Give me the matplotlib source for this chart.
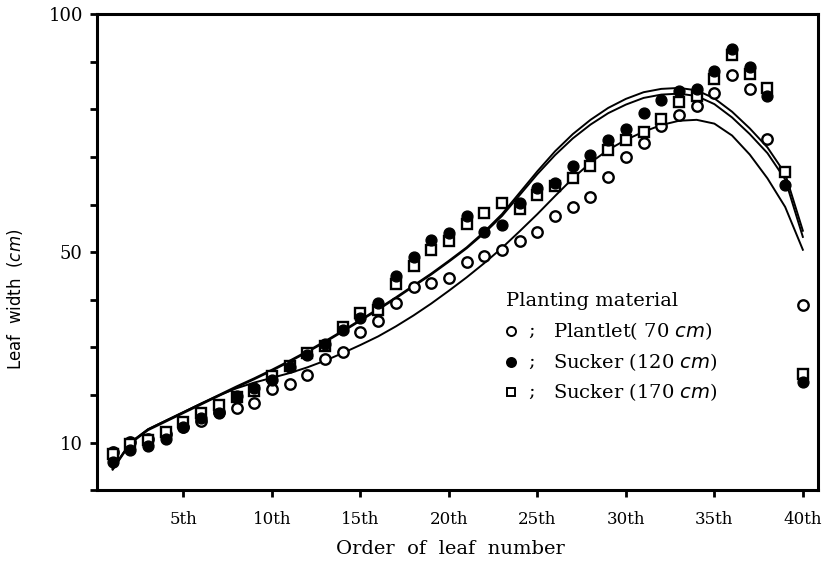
import numpy as np
import matplotlib.pyplot as plt

# leaf order (1st .. 40th)
leaf = np.arange(1, 41)

# leaf width (cm) per planting material
plantlet = [8.0, 10.2, 10.8, 11.8, 13.2, 14.5, 16.5, 17.2, 18.3, 21.2,
            22.4, 24.1, 27.5, 29.0, 33.2, 35.5, 39.4, 42.7, 43.5, 44.5,
            48.0, 49.2, 50.4, 52.4, 54.2, 57.5, 59.5, 61.6, 65.8, 70.0,
            72.9, 76.5, 78.9, 80.8, 83.4, 87.2, 84.2, 73.8, np.nan, 38.8]
sucker120 = [6.0, 8.5, 9.2, 10.8, 13.2, 15.2, 16.2, 19.8, 21.5, 23.2,
             25.8, 28.3, 30.8, 33.6, 36.2, 39.4, 45.0, 49.0, 52.6, 54.0,
             57.5, 54.2, 55.8, 60.3, 63.4, 64.5, 68.0, 70.5, 73.6, 75.8,
             79.2, 82.0, 83.8, 84.2, 88.0, 92.6, 88.8, 82.7, 64.1, 22.7]
sucker170 = [7.5, 9.6, 10.5, 12.3, 14.3, 16.2, 17.8, 19.6, 20.8, 24.0,
             26.0, 28.8, 30.3, 34.3, 37.3, 37.8, 43.4, 47.0, 50.4, 52.3,
             56.0, 58.2, 60.3, 59.0, 62.0, 63.8, 65.6, 68.0, 71.5, 73.6,
             75.3, 77.9, 81.5, 82.7, 86.3, 91.5, 87.5, 84.4, 66.9, 24.4]

# fitted curves
fit_plantlet = [4.5, 10.0, 12.8, 14.6, 16.4, 18.2, 19.9, 21.4, 22.6, 23.6,
                24.6, 25.8, 27.2, 28.8, 30.5, 32.3, 34.4, 36.7, 39.2, 41.9,
                44.7, 47.7, 50.9, 54.4, 58.0, 61.8, 65.5, 68.8, 71.5, 73.6,
                75.3, 76.7, 77.6, 77.8, 77.0, 74.5, 70.5, 65.5, 59.5, 50.5]
fit_sucker120 = [4.5, 10.0, 12.8, 14.6, 16.4, 18.2, 20.0, 21.8, 23.5, 25.3,
                 27.2, 29.2, 31.3, 33.5, 35.8, 38.1, 40.5, 43.0, 45.5, 48.2,
                 51.0, 54.3, 58.0, 62.5, 67.0, 71.2, 74.8, 77.8, 80.3, 82.2,
                 83.6, 84.3, 84.5, 84.0, 82.3, 79.5, 76.0, 72.0, 66.5, 54.5]
fit_sucker170 = [4.3, 9.8, 12.6, 14.4, 16.2, 18.0, 19.8, 21.6, 23.3, 25.1,
                 27.0, 29.0, 31.1, 33.3, 35.6, 37.9, 40.3, 42.8, 45.3, 48.0,
                 50.8, 54.0, 57.6, 62.0, 66.4, 70.4, 73.9, 76.8, 79.2, 81.0,
                 82.4, 83.1, 83.3, 82.8, 81.1, 78.3, 74.8, 70.8, 65.3, 53.2]

xtick_pos = [5, 10, 15, 20, 25, 30, 35, 40]
xtick_lab = ["5th", "10th", "15th", "20th", "25th", "30th", "35th", "40th"]

plt.rcParams['font.family'] = ['DejaVu Serif']

fig = plt.figure(figsize=(8.27, 5.66), dpi=100)
ax = fig.add_axes([0.117, 0.134, 0.872, 0.841])

for f in (fit_plantlet, fit_sucker120, fit_sucker170):
    ax.plot(leaf, f, color="black", lw=1.4, zorder=2)

ax.plot(leaf, plantlet, "o", ms=7.5, mfc="white", mec="black", mew=1.7, zorder=3)
ax.plot(leaf, sucker170, "s", ms=6.5, mfc="white", mec="black", mew=1.7, zorder=4)
ax.plot(leaf, sucker120, "o", ms=7.8, mfc="black", mec="black", zorder=5)

ax.set_xlim(0.1, 40.85)
ax.set_ylim(0, 100)
ax.set_xticks(xtick_pos)
ax.set_xticklabels(xtick_lab, fontsize=12)
ax.set_yticks(np.arange(0, 101, 10))
ax.set_yticklabels(["" if v not in (10, 50, 100) else str(v) for v in range(0, 101, 10)],
                   fontsize=13)
ax.tick_params(axis="both", direction="out", width=2, length=5)
ax.tick_params(axis="x", pad=10)
ax.tick_params(axis="y", pad=5)
for s in ax.spines.values():
    s.set_linewidth(2.2)

ax.set_xlabel("Order  of  leaf  number", fontsize=14)
ax.xaxis.set_label_coords(0.49, -0.105)
ax.set_ylabel("Leaf  width  ($\\mathbf{\\mathit{cm}}$)", fontsize=12, family="DejaVu Sans")
ax.yaxis.set_label_coords(-0.1, 0.40)

# legend block
lx, ty = 23.3, 39.8
ax.text(lx - 0.1, ty, "Planting material", fontsize=14, va="center")
legend_rows = [("o", "white", "Plantlet( 70 $\\mathit{cm}$)"),
               ("o", "black", "Sucker (120 $\\mathit{cm}$)"),
               ("s", "white", "Sucker (170 $\\mathit{cm}$)")]
for i, (m, fc, lab) in enumerate(legend_rows):
    yy = ty - 6.4 * (i + 1)
    ax.plot([lx + 0.2], [yy], m, ms=6.5 if m == "o" else 6, mfc=fc, mec="black", mew=1.4)
    ax.text(lx + 1.2, yy, ";", fontsize=14, va="center")
    ax.text(lx + 2.6, yy, lab, fontsize=14, va="center")

fig.savefig("out.png", dpi=100)
